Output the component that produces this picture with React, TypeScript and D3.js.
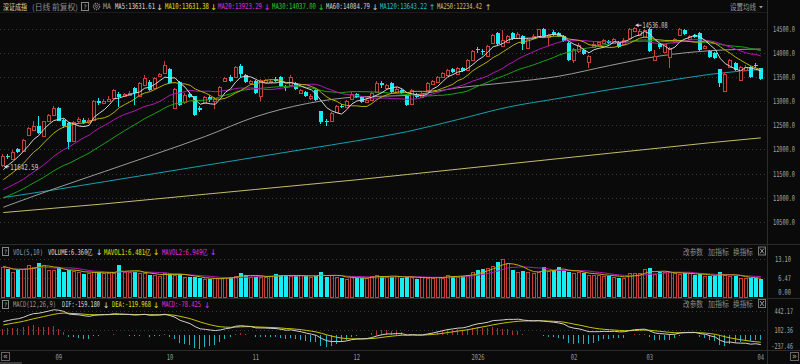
import React from 'react';
import * as d3 from 'd3';

// closes before the first visible bar, only used to warm up the averages and MACD
const prevCloses = [10480, 10560, 10540, 10610, 10680, 10640, 10700, 10760, 10730, 10800, 10860, 10840, 10910, 10980, 10950, 11000, 10970, 11020, 10990, 11060, 11100, 11140, 11120, 11190, 11290, 11350, 11540, 11470, 11660];

// open, high, low, close
const candles: [number, number, number, number][] = [
  [11680, 11900, 11642.59, 11870], [11870, 11900, 11800, 11850], [11800, 11980, 11780, 11950], [12010, 12030, 11920, 11940],
  [11960, 12220, 11940, 12200], [12300, 12470, 12280, 12450], [12410, 12590, 12390, 12490], [12490, 12690, 12330, 12350],
  [12270, 12600, 12250, 12580], [12580, 12740, 12560, 12720], [12720, 12900, 12700, 12860], [12850, 12880, 12580, 12600],
  [12610, 12640, 12450, 12480], [12550, 12570, 12010, 12150], [12170, 12580, 12150, 12560], [12580, 12680, 12540, 12640],
  [12620, 12660, 12520, 12540], [12560, 12650, 12530, 12610], [12610, 13030, 12590, 13010], [13000, 13060, 12930, 12960],
  [12960, 13040, 12940, 13010], [13000, 13100, 12980, 13050], [13070, 13260, 13050, 13230], [13150, 13190, 12890, 13090],
  [13100, 13180, 13080, 13150], [13130, 13220, 13100, 13180], [13270, 13300, 12930, 13170], [13100, 13400, 13080, 13380],
  [13340, 13550, 13320, 13480], [13410, 13440, 13220, 13240], [13270, 13500, 13250, 13480], [13520, 13580, 13500, 13560],
  [13580, 13830, 13560, 13750], [13660, 13700, 13360, 13380], [12870, 13280, 12850, 13260], [13410, 13430, 12900, 12930],
  [12990, 13180, 12950, 13140], [13150, 13200, 13060, 13090], [13100, 13110, 12700, 12720], [12860, 12900, 12780, 12810],
  [12960, 13100, 12940, 13080], [13080, 13120, 12990, 13030], [13000, 13080, 12830, 13050], [13140, 13310, 13120, 13300],
  [13430, 13500, 13400, 13480], [13500, 13540, 13400, 13430], [13500, 13740, 13480, 13720], [13740, 13780, 13500, 13560],
  [13540, 13560, 13380, 13400], [13380, 13450, 13330, 13420], [13420, 13440, 13160, 13180], [13100, 13460, 13000, 13440],
  [13390, 13470, 13370, 13440], [13390, 13450, 13370, 13420], [13470, 13500, 13400, 13430], [13510, 13530, 13300, 13320],
  [13290, 13340, 13220, 13270], [13340, 13540, 13320, 13510], [13370, 13400, 13230, 13250], [13180, 13260, 13150, 13230],
  [13200, 13220, 13080, 13100], [13060, 13150, 13030, 13100], [13240, 13260, 13000, 13020], [12790, 12800, 12520, 12560],
  [12590, 12640, 12480, 12570], [12600, 12780, 12580, 12760], [12780, 12920, 12760, 12900], [12900, 12940, 12850, 12880],
  [12880, 13030, 12860, 13010], [13050, 13200, 13030, 13160], [13150, 13170, 13060, 13080], [13080, 13100, 12960, 12980],
  [12990, 13060, 12970, 13030], [13030, 13200, 13010, 13180], [13200, 13430, 13180, 13380], [13370, 13430, 13280, 13330],
  [13270, 13360, 13250, 13330], [13380, 13400, 13170, 13190], [13190, 13290, 13170, 13260], [13240, 13260, 13150, 13170],
  [13110, 13130, 12900, 12920], [12950, 13250, 12930, 13230], [13140, 13170, 13060, 13080], [13090, 13190, 13070, 13160],
  [13230, 13390, 13210, 13370], [13360, 13440, 13340, 13420], [13390, 13530, 13370, 13510], [13500, 13600, 13480, 13580],
  [13550, 13670, 13530, 13650], [13660, 13690, 13580, 13600], [13560, 13710, 13540, 13690], [13700, 13720, 13600, 13620],
  [13650, 13880, 13630, 13860], [13860, 14070, 13840, 14050], [14090, 14120, 14010, 14060], [14040, 14080, 13960, 14020],
  [13940, 14170, 13920, 14150], [14210, 14400, 14190, 14380], [14410, 14430, 14170, 14190], [14150, 14480, 14130, 14280],
  [14230, 14380, 14210, 14360], [14420, 14440, 14280, 14300], [14310, 14430, 14290, 14400], [14350, 14370, 14070, 14190],
  [14110, 14320, 14090, 14300], [14330, 14400, 14290, 14350], [14350, 14510, 14330, 14490], [14510, 14530, 14330, 14350],
  [14330, 14400, 14140, 14380], [14440, 14470, 14360, 14380], [14420, 14440, 14330, 14350], [14360, 14380, 14230, 14250],
  [14210, 14230, 13840, 13860], [13860, 14100, 13800, 14080], [14040, 14200, 14010, 14170], [14060, 14090, 13960, 13990],
  [13810, 13950, 13690, 13930], [14130, 14220, 14100, 14190], [14190, 14250, 14150, 14220], [14210, 14300, 14190, 14280],
  [14250, 14280, 14180, 14200], [14200, 14320, 14180, 14300], [14230, 14260, 14100, 14120], [14180, 14320, 14160, 14280],
  [14310, 14520, 14290, 14510], [14450, 14536.08, 14430, 14520], [14380, 14500, 14360, 14460], [14330, 14500, 14310, 14470],
  [14510, 14525, 14020, 14040], [13850, 14060, 13830, 13930], [14190, 14210, 14090, 14120], [14030, 14190, 14000, 14180],
  [13910, 14120, 13700, 14100], [14230, 14310, 14210, 14290], [14380, 14520, 14360, 14500], [14480, 14510, 14380, 14400],
  [14300, 14370, 14280, 14350], [14380, 14400, 14320, 14340], [14420, 14440, 14050, 14070], [14100, 14170, 14080, 14150],
  [14050, 14070, 13890, 13910], [14000, 14020, 13880, 13900], [13660, 13680, 13300, 13380], [13220, 13600, 13200, 13560],
  [13720, 13880, 13700, 13860], [13800, 13820, 13620, 13640], [13440, 13740, 13420, 13720], [13640, 13760, 13620, 13720],
  [13720, 13740, 13490, 13510], [13760, 13790, 13700, 13740], [13690, 13700, 13440, 13470],
];

// volume, 亿
const volumes = [
  10.5, 9.7, 8.7, 9.3, 9.6, 11.0, 10.5, 11.6, 11.0, 9.3, 9.3, 9.9, 8.7, 9.3, 9.1, 8.5, 7.9, 8.2, 8.7, 8.7,
  8.2, 8.2, 8.4, 11.0, 8.5, 8.7, 8.7, 8.2, 8.2, 7.6, 7.6, 7.2, 8.2, 8.2, 7.7, 7.9, 6.8, 6.8, 7.0, 6.4,
  6.2, 6.1, 6.4, 6.4, 7.0, 6.8, 7.2, 8.2, 7.7, 7.0, 7.0, 6.8, 7.0, 7.4, 7.8, 7.6, 7.2, 7.2, 7.2, 7.7,
  7.2, 7.0, 7.2, 8.5, 7.0, 7.6, 7.0, 6.7, 6.1, 6.8, 6.7, 6.7, 6.4, 7.4, 7.6, 7.2, 6.8, 7.0, 7.2, 6.7,
  7.0, 6.8, 6.2, 6.8, 6.7, 6.7, 6.8, 6.7, 7.6, 7.4, 7.0, 7.4, 7.6, 8.7, 9.3, 9.6, 10.1, 10.7, 12.2, 13.1,
  11.6, 9.3, 8.7, 9.1, 8.5, 8.2, 8.7, 10.5, 9.0, 9.3, 10.2, 9.3, 8.5, 8.2, 8.7, 8.2, 7.6, 7.6, 7.5, 7.4,
  7.2, 7.0, 6.7, 6.4, 8.2, 8.2, 8.2, 9.6, 9.9, 7.8, 8.7, 8.5, 8.5, 8.2, 7.8, 8.2, 8.2, 7.6, 7.8, 7.2,
  7.2, 7.4, 8.7, 7.6, 7.2, 7.2, 6.6, 6.5, 6.5, 6.4, 6.36,
];

// long averages: [bar index, value]
const ma60Pts: [number, number][] = [[0, 10800], [10, 11180], [20, 11540], [30, 11900], [40, 12270], [50, 12680], [60, 12950], [70, 13090], [80, 13120], [90, 13280], [100, 13390], [110, 13520], [120, 13740], [130, 13940], [140, 14050], [150, 14085]];
const ma120Pts: [number, number][] = [[0, 11000], [10, 11160], [20, 11330], [30, 11500], [40, 11670], [50, 11840], [60, 12010], [70, 12180], [80, 12370], [90, 12620], [100, 12880], [110, 13060], [120, 13240], [130, 13400], [140, 13560], [150, 13660]];
const ma250Pts: [number, number][] = [[0, 10690], [10, 10780], [20, 10870], [30, 10970], [40, 11070], [50, 11170], [60, 11270], [70, 11370], [80, 11480], [90, 11590], [100, 11700], [110, 11810], [120, 11920], [130, 12030], [140, 12140], [150, 12240]];

const priceTicks = [14500, 14000, 13500, 13000, 12500, 12000, 11500, 11000, 10500];
const volTicks = ['13.10', '6.47', '0.00'];
const macdTicks = ['442.17', '102.36', '-237.46'];
const monthLabels: [number, string][] = [[11, '09'], [33, '10'], [50, '11'], [70, '12'], [94, '2026'], [113, '02'], [128, '03'], [150, '04']];

const UP = '#c8403a';
const DOWN = '#14eef2';
const BG = '#0a0a0a';
const MONO = "'DejaVu Sans Mono', monospace";
const CJK = "'Noto Sans CJK SC', sans-serif";

// narrow bitmap-like labels: squeeze the text horizontally to width w
const Txt = ({ x, y, w, fill, size = 8, font = MONO, children }: any) => {
  const s = String(children);
  const est = Array.from(s).reduce((a, ch) => a + (ch.charCodeAt(0) > 0x2e80 ? 1 : font === MONO ? 0.602 : 0.5) * size, 0);
  const sx = w / est;
  return (
    <text transform={`translate(${x},${y}) scale(${sx},1)`} fill={fill} fontSize={size} fontFamily={font} textLength={est} lengthAdjust="spacingAndGlyphs">
      {s}
    </text>
  );
};
const Arrow = ({ x, y, fill, up = false }: any) => (
  <text x={x} y={y} fill={fill} fontSize={8} fontFamily="'DejaVu Sans', sans-serif" textAnchor="middle">{up ? '↑' : '↓'}</text>
);

export default function App() {
  const n = candles.length;
  const x = d3.scaleLinear().domain([0, n - 1]).range([3.3, 760.8]);
  const yP = d3.scaleLinear().domain([10500, 14500]).range([221.7, 29]);
  const yV = d3.scaleLinear().domain([0, 13.1]).range([297, 259]);
  const yM = d3.scaleLinear().domain([-237.46, 442.17]).range([348.7, 310.7]);

  const K = prevCloses.length;
  const allCloses = [...prevCloses, ...candles.map((c) => c[3])];
  const sma = (p: number) => candles.map((_, i) => d3.mean(allCloses.slice(K + i - p + 1, K + i + 1)) as number);
  const ema = (arr: number[], p: number) => {
    const a = 2 / (p + 1);
    const out: number[] = [];
    arr.forEach((v, i) => out.push(i === 0 ? v : out[i - 1] + a * (v - out[i - 1])));
    return out;
  };
  const e12 = ema(allCloses, 12);
  const e26 = ema(allCloses, 26);
  const difAll = e12.map((v, i) => v - e26[i]);
  const deaAll = ema(difAll, 9);
  const dif = difAll.slice(K);
  const dea = deaAll.slice(K);
  const hist = dif.map((v, i) => 2 * (v - dea[i]));
  const volMA = (p: number) => volumes.map((_, i) => d3.mean(volumes.slice(Math.max(0, i - p + 1), i + 1)) as number);

  const priceLine = d3.line<number>().x((_, i) => x(i)).y((d) => yP(d));
  const anchorLine = d3.line<[number, number]>().x((d) => x(d[0])).y((d) => yP(d[1])).curve(d3.curveMonotoneX);
  const volLine = d3.line<number>().x((_, i) => x(i)).y((d) => yV(d));
  const macdLine = d3.line<number>().x((_, i) => x(i)).y((d) => yM(d));

  const maShort = [
    { p: 30, color: '#18a418' },
    { p: 20, color: '#b418b4' },
    { p: 10, color: '#b8b000' },
    { p: 5, color: '#d4d4d4' },
  ];

  const lowIdx = d3.minIndex(candles, (c) => c[2]);
  const highIdx = d3.maxIndex(candles, (c) => c[1]);
  const lowY = yP(candles[lowIdx][2]);
  const highY = yP(candles[highIdx][1]) - 2;

  const panelBtns = (y: number) => (
    <g>
      <Txt x={683} y={y} w={20} fill="#8a8a8a" font={CJK}>改参数</Txt>
      <Txt x={708} y={y} w={21} fill="#8a8a8a" font={CJK}>加指标</Txt>
      <Txt x={733} y={y} w={20} fill="#8a8a8a" font={CJK}>换指标</Txt>
      <rect x={758.5} y={y - 7.5} width={7} height={8} fill="none" stroke="#777" />
      <path d={`M760,${y - 6} L764,${y - 1} M764,${y - 6} L760,${y - 1}`} stroke="#999" />
    </g>
  );

  const helpBox = (bx: number, y: number) => (
    <g>
      <rect x={bx + 0.5} y={y - 7.5} width={6} height={8} fill="none" stroke="#888" />
      <text x={bx + 3.5} y={y - 1.5} fontSize={6} fill="#aaa" textAnchor="middle" fontFamily={MONO}>?</text>
    </g>
  );

  return (
    <svg width={800} height={364} style={{ position: 'absolute', left: 0, top: 0, display: 'block', background: BG }}>
      <defs>
        <clipPath id="mainClip"><rect x={0} y={13} width={767} height={231} /></clipPath>
        <clipPath id="macdClip"><rect x={0} y={299} width={767} height={51} /></clipPath>
      </defs>
      <rect width={800} height={364} fill={BG} />

      {/* grid */}
      <g stroke="#3a3a3a" strokeDasharray="1,3" shapeRendering="crispEdges">
        {priceTicks.map((v) => <line key={v} x1={0} x2={767} y1={Math.round(yP(v)) + 0.5} y2={Math.round(yP(v)) + 0.5} />)}
        {[13.1, 6.47].map((v) => <line key={v} x1={0} x2={767} y1={Math.round(yV(v)) + 0.5} y2={Math.round(yV(v)) + 0.5} />)}
        {[442.17, 102.36].map((v) => <line key={v} x1={0} x2={767} y1={Math.round(yM(v)) + 0.5} y2={Math.round(yM(v)) + 0.5} />)}
      </g>

      {/* separators */}
      <g stroke="#2c2c2c" shapeRendering="crispEdges">
        <line x1={0} x2={767} y1={12.5} y2={12.5} stroke="#1c1c1c" />
        <line x1={0} x2={800} y1={244.5} y2={244.5} />
        <line x1={0} x2={800} y1={298.5} y2={298.5} />
        <line x1={0} x2={800} y1={350.5} y2={350.5} />
        <line x1={767.5} x2={767.5} y1={0} y2={364} />
      </g>

      {/* main panel */}
      <g clipPath="url(#mainClip)">
        <g fill="none" strokeWidth={1}>
          <path d={anchorLine(ma250Pts) || ''} stroke="#c4bc6c" />
          <path d={anchorLine(ma120Pts) || ''} stroke="#14a0b0" />
          <path d={anchorLine(ma60Pts) || ''} stroke="#9a9a9a" />
        </g>
        <g shapeRendering="crispEdges">
          {candles.map((c, i) => {
            const [o, h, l, cl] = c;
            const cx = Math.round(x(i));
            const up = cl >= o;
            const top = Math.round(yP(Math.max(o, cl)));
            const bot = Math.round(yP(Math.min(o, cl)));
            const col = up ? UP : DOWN;
            return (
              <g key={i}>
                <line x1={cx - 0.5} x2={cx - 0.5} y1={yP(h)} y2={top} stroke={col} />
                <line x1={cx - 0.5} x2={cx - 0.5} y1={bot} y2={yP(l)} stroke={col} />
                {up ? (
                  <rect x={cx - 1.5} y={top + 0.5} width={3} height={Math.max(bot - top, 1)} fill={BG} stroke={col} />
                ) : (
                  <rect x={cx - 2} y={top} width={4} height={Math.max(bot - top, 1)} fill={col} />
                )}
              </g>
            );
          })}
        </g>
        <g fill="none" strokeWidth={1}>
          {maShort.map((m) => <path key={m.p} d={priceLine(sma(m.p)) || ''} stroke={m.color} />)}
        </g>
      </g>

      {/* low / high markers */}
      <g fill="#d0d0d0" stroke="#d0d0d0">
        <line x1={x(lowIdx) + 1} x2={x(lowIdx) + 6} y1={lowY} y2={lowY} />
        <path d={`M${x(lowIdx) + 1},${lowY} l3,-2 l0,4 z`} stroke="none" />
        <line x1={x(highIdx) + 1} x2={x(highIdx) + 7} y1={highY} y2={highY} />
        <path d={`M${x(highIdx) + 1},${highY} l3,-2 l0,4 z`} stroke="none" />
      </g>
      <Txt x={x(lowIdx) + 7} y={lowY + 3} w={28} fill="#d0d0d0">{d3.format('.2f')(candles[lowIdx][2])}</Txt>
      <Txt x={x(highIdx) + 8} y={highY + 3} w={25} fill="#d0d0d0">{d3.format('.2f')(candles[highIdx][1])}</Txt>

      {/* price axis */}
      {priceTicks.map((v) => (
        <Txt key={v} x={773} y={yP(v) + 3} w={22} fill="#a8a8a8">{d3.format('.1f')(v)}</Txt>
      ))}

      {/* header */}
      <Txt x={3} y={9.5} w={24} fill="#e2d8b0" font={CJK} size={8}>深证成指</Txt>
      <Txt x={32} y={9.5} w={46} fill="#8c8c8c" font={CJK} size={8}>(日线 前复权)</Txt>
      <rect x={81.5} y={2.5} width={7} height={8} fill="none" stroke="#888" />
      <text x={85} y={8.5} fontSize={6} fill="#aaa" textAnchor="middle" fontFamily={MONO}>?</text>
      <circle cx={96.5} cy={6.5} r={3} fill="none" stroke="#888" strokeDasharray="1.2,0.8" strokeWidth={1.5} />
      <circle cx={96.5} cy={6.5} r={1} fill="none" stroke="#888" />
      <Txt x={103} y={9} w={8} fill="#9a9a9a">MA</Txt>
      <Txt x={115} y={9} w={40} fill="#dcdcdc">MA5:13631.61</Txt>
      <Arrow x={159.5} y={9.5} fill="#dcdcdc" />
      <Txt x={165} y={9} w={44} fill="#e4e000">MA10:13631.38</Txt>
      <Arrow x={213.5} y={9.5} fill="#e4e000" />
      <Txt x={218} y={9} w={44} fill="#e030e0">MA20:13923.29</Txt>
      <Arrow x={267} y={9.5} fill="#e030e0" />
      <Txt x={272} y={9} w={44} fill="#28d028">MA30:14037.00</Txt>
      <Arrow x={321} y={9.5} fill="#28d028" />
      <Txt x={326} y={9} w={44} fill="#d4d4d4">MA60:14084.79</Txt>
      <Arrow x={375} y={9.5} fill="#d4d4d4" />
      <Txt x={380} y={9} w={47} fill="#20c4d4">MA120:13643.22</Txt>
      <Arrow x={432} y={9.5} fill="#20c4d4" up />
      <Txt x={437} y={9} w={45} fill="#d4c474">MA250:12234.42</Txt>
      <Arrow x={488} y={9.5} fill="#d4c474" up />
      <Txt x={730} y={9.5} w={26} fill="#9a9a9a" font={CJK}>设置均线</Txt>
      <path d="M759,6 l4,0 l-2,2.5 z" fill="#9a9a9a" />

      {/* volume panel */}
      {helpBox(2, 255)}
      <Txt x={13} y={254.5} w={30} fill="#9a9a9a">VOL(5,10)</Txt>
      <Txt x={48} y={254.5} w={45} fill="#dcdcdc">VOLUME:6.360亿</Txt>
      <Arrow x={99} y={255} fill="#dcdcdc" />
      <Txt x={104} y={254.5} w={47} fill="#e4e000">MAVOL1:6.481亿</Txt>
      <Arrow x={156} y={255} fill="#e4e000" />
      <Txt x={162} y={254.5} w={46} fill="#e030e0">MAVOL2:6.949亿</Txt>
      <Arrow x={213} y={255} fill="#e030e0" />
      {panelBtns(254.5)}
      <g shapeRendering="crispEdges">
        {volumes.map((v, i) => {
          const c = candles[i];
          const up = c[3] >= c[0];
          const cx = Math.round(x(i));
          const top = Math.round(yV(v));
          return up ? (
            <rect key={i} x={cx - 1.5} y={top + 0.5} width={3} height={297 - top - 0.5} fill="none" stroke={UP} />
          ) : (
            <rect key={i} x={cx - 2} y={top} width={4} height={297 - top} fill={DOWN} />
          );
        })}
      </g>
      <path d={volLine(volMA(10)) || ''} fill="none" stroke="#b418b4" />
      <path d={volLine(volMA(5)) || ''} fill="none" stroke="#b8b000" />
      {volTicks.map((t, k) => (
        <Txt key={t} x={791 - t.length * 3.2} y={[261.5, 281, 295][k]} w={t.length * 3.2} fill="#a8a8a8">{t}</Txt>
      ))}

      {/* MACD panel */}
      {helpBox(2, 308)}
      <Txt x={13} y={307} w={43} fill="#9a9a9a">MACD(12,26,9)</Txt>
      <Txt x={62} y={307} w={38} fill="#dcdcdc">DIF:-159.180</Txt>
      <Arrow x={106} y={307.5} fill="#dcdcdc" />
      <Txt x={112} y={307} w={39} fill="#e4e000">DEA:-119.968</Txt>
      <Arrow x={156} y={307.5} fill="#e4e000" />
      <Txt x={162} y={307} w={39} fill="#e030e0">MACD:-78.425</Txt>
      <Arrow x={207} y={307.5} fill="#e030e0" />
      {panelBtns(307)}
      <g clipPath="url(#macdClip)">
        <g shapeRendering="crispEdges">
          {hist.map((h, i) => {
            const cx = Math.round(x(i)) - 0.5;
            return <line key={i} x1={cx} x2={cx} y1={yM(0)} y2={yM(h)} stroke={h >= 0 ? '#b83030' : '#1cb4c4'} />;
          })}
        </g>
        <path d={macdLine(dea) || ''} fill="none" stroke="#c8c400" />
        <path d={macdLine(dif) || ''} fill="none" stroke="#d0d0d0" />
      </g>
      {macdTicks.map((t, k) => (
        <Txt key={t} x={793 - t.length * 3.1} y={[313.5, 332.5, 348.5][k]} w={t.length * 3.1} fill="#a8a8a8">{t}</Txt>
      ))}

      {/* date axis */}
      {monthLabels.map(([i, t]) => (
        <Txt key={t} x={x(i) - (t.length * 3.3) / 2} y={359.5} w={t.length * 3.3} fill="#9a9a9a">{t}</Txt>
      ))}
      <rect x={1.5} y={352.5} width={8} height={8} fill="none" stroke="#666" />
      <text x={5.5} y={359} fontSize={8} fill="#aaa" textAnchor="middle" fontFamily={MONO}>«</text>
      <rect x={790.5} y={352.5} width={8} height={8} fill="none" stroke="#666" />
      <text x={794.5} y={359} fontSize={8} fill="#aaa" textAnchor="middle" fontFamily={MONO}>»</text>
      <rect x={0} y={362} width={22} height={2} fill="#3a3a3a" />
    </svg>
  );
}
